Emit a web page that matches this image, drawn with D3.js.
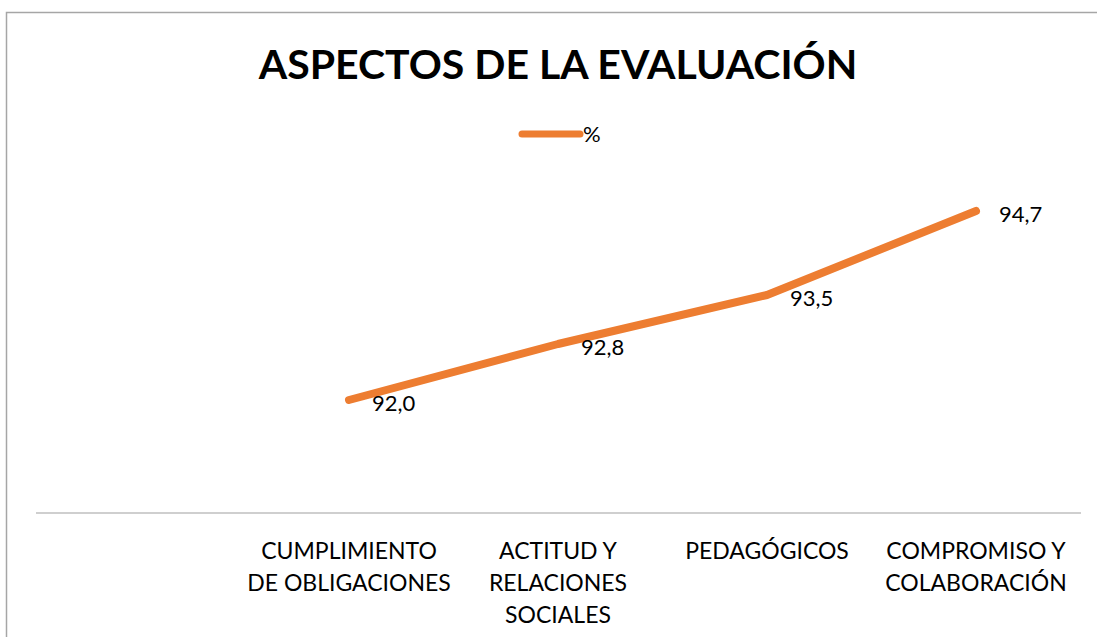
<!DOCTYPE html>
<html>
<head>
<meta charset="utf-8">
<script src="https://cdn.jsdelivr.net/npm/d3@7"></script>
<style>
  body { margin: 0; background: #fff; }
  svg text { font-family: Lato, "Open Sans", sans-serif; fill: #000; }
</style>
</head>
<body>
<div id="chart"></div>
<script>
  // first category is empty in the original sheet
  const categories = ['', 'CUMPLIMIENTO\nDE OBLIGACIONES', 'ACTITUD Y\nRELACIONES\nSOCIALES', 'PEDAGÓGICOS', 'COMPROMISO Y\nCOLABORACIÓN']
  const values = [null, 92.0, 92.8, 93.5, 94.7]
  const seriesName = '%'
  const title = 'ASPECTOS DE LA EVALUACIÓN'

  const W = 1097, H = 637
  const orange = '#ED7D31'

  const svg = d3.select('#chart').append('svg')
    .attr('width', W)
    .attr('height', H)

  // chart frame (runs off the right and bottom of the picture)
  svg.append('rect')
    .attr('x', 6.5).attr('y', 12.5)
    .attr('width', 1120).attr('height', 700)
    .attr('fill', 'none')
    .attr('stroke', '#a6a6a6')
    .attr('stroke-width', 1.5)

  svg.append('text')
    .attr('x', 558).attr('y', 79)
    .attr('text-anchor', 'middle')
    .style('font-size', '41px')
    .style('font-weight', 'bold')
    .text(title)

  // legend
  const legend = svg.append('g').attr('transform', 'translate(522,134)')
  legend.append('line')
    .attr('x1', 0).attr('x2', 58)
    .attr('stroke', orange).attr('stroke-width', 7)
    .attr('stroke-linecap', 'round')
  legend.append('text')
    .attr('x', 61).attr('y', 8)
    .style('font-size', '22px')
    .text(seriesName)

  const xScale = d3.scaleBand()
    .domain(categories)
    .range([35.5, 1080.5])

  const yScale = d3.scaleLinear()
    .domain([90.4, 95.5])
    .range([512, 155])

  const xAxis = svg.append('g')
    .attr('transform', 'translate(0,512.5)')
    .call(d3.axisBottom(xScale).tickSize(0).tickSizeOuter(0).tickFormat(''))
  xAxis.select('.domain').attr('stroke', '#bfbfbf').attr('stroke-width', 1.5)

  xAxis.selectAll('.tick').each(function(d) {
    const lines = d.split('\n')
    const t = d3.select(this).append('text')
      .attr('text-anchor', 'middle')
      .style('font-size', '23px')
    lines.forEach((s, i) => {
      t.append('tspan').attr('x', 0).attr('y', 46 + i * 32).text(s)
    })
  })

  const pts = categories.map((c, i) => ({ c: c, v: values[i] })).filter(d => d.v != null)
  const cx = d => xScale(d.c) + xScale.bandwidth() / 2

  svg.append('path')
    .datum(pts)
    .attr('fill', 'none')
    .attr('stroke', orange)
    .attr('stroke-width', 8)
    .attr('stroke-linecap', 'round')
    .attr('stroke-linejoin', 'round')
    .attr('d', d3.line().x(cx).y(d => yScale(d.v)))

  svg.selectAll('.val')
    .data(pts)
    .enter().append('text')
    .attr('class', 'val')
    .attr('x', d => cx(d) + 23)
    .attr('y', d => yScale(d.v) + 11)
    .style('font-size', '22px')
    .text(d => d.v.toFixed(1).replace('.', ','))
</script>
</body>
</html>
